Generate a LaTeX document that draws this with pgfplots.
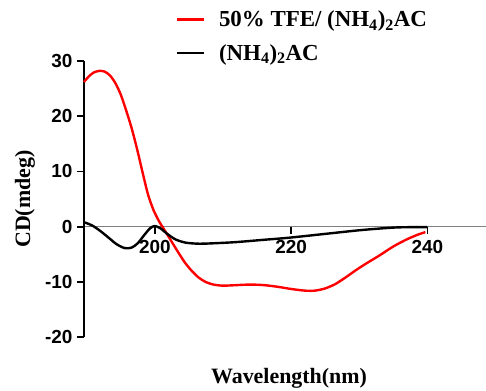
\documentclass[border=0pt]{standalone}
\usepackage{fontspec}
\setmainfont{Liberation Serif}
\newfontfamily\arialb{Liberation Sans}
\usepackage{pgfplots}
\pgfplotsset{compat=1.18}
\definecolor{cdred}{RGB}{255,0,0}
\begin{document}
\begin{tikzpicture}
\useasboundingbox (-84bp,-54bp) rectangle (402bp,337bp);
\begin{axis}[
  at={(0,0)}, anchor=south west,
  scale only axis, width=402bp, height=276bp,
  xmin=189.6, xmax=248.6, ymin=-20, ymax=30,
  axis x line=middle, axis y line=left,
  x axis line style={-, draw=gray, line width=0.9bp},
  y axis line style={-, draw=black, line width=2.2bp},
  xtick={200,220,240}, ytick={-20,-10,0,10,20,30},
  tick align=outside,
  major tick length=7bp,
  xtick style={draw=black, line width=1.8bp},
  ytick style={draw=black, line width=1.8bp},
  minor tick num=0,
  /pgf/number format/assume math mode=true,
  ticklabel style={font=\arialb\bfseries\fontsize{19}{19}\selectfont},
  xticklabel style={yshift=-3bp},
  yticklabel style={xshift=-1bp},
  xlabel={Wavelength(nm)},
  ylabel={CD(mdeg)},
  label style={font=\bfseries\fontsize{22}{22}\selectfont},
  xlabel style={at={(axis description cs:0.51,-0.1486)}, anchor=center},
  ylabel style={at={(axis description cs:-0.1468,0.5)}, anchor=center},
  legend style={at={(axis description cs:0.22,1.197)}, anchor=north west,
    draw=none, fill=none, font=\bfseries\fontsize{23}{23}\selectfont,
    row sep=12bp, /tikz/every odd column/.style={column sep=12bp}},
  legend cell align=left,
  legend image code/.code={\draw[#1] (0bp,0bp) -- (27bp,0bp);},
  clip=false,
]
\addplot[cdred, line width=2.4bp, smooth, tension=0.45] coordinates {
(189.6,26.2) (190.3,27.2) (191.0,27.9) (191.8,28.2) (192.6,28.1) (193.4,27.4)
(194.2,26.0) (195.0,23.9) (195.8,21.0) (196.6,17.8) (197.4,14.0) (198.2,9.8)
(199.0,5.8) (199.8,3.0) (200.6,1.0) (201.4,-0.6) (202.4,-2.6) (203.4,-4.6)
(204.4,-6.5) (205.4,-8.0) (206.4,-9.2) (207.4,-10.0) (208.6,-10.5) (210,-10.7)
(212,-10.6) (214,-10.5) (216,-10.6) (218,-10.9) (220,-11.3) (222,-11.6)
(223.5,-11.6) (225,-11.2) (226.5,-10.4) (228,-9.2) (229.5,-7.9) (231,-6.7)
(233,-5.2) (235,-3.6) (237,-2.3) (238.5,-1.5) (239.7,-1.0)
};
\addlegendentry{50\% TFE/ (NH\textsubscript{4})\textsubscript{2}AC}
\addplot[black, line width=2.4bp, smooth, tension=0.5] coordinates {
(189.6,0.8) (190.8,0.2) (192.0,-0.8) (193.2,-2.0) (194.4,-3.2) (195.6,-3.9)
(196.6,-3.8) (197.5,-3.0) (198.4,-1.6) (199.3,-0.3) (200.0,0.1) (200.8,-0.3)
(201.8,-1.3) (203.0,-2.3) (204.5,-2.9) (206.5,-3.1) (209,-3.0) (212,-2.8)
(215.9,-2.4) (219.8,-2.0) (225.9,-1.2) (230.55,-0.6) (235.5,-0.15) (240.0,-0.1)
};
\addlegendentry{(NH\textsubscript{4})\textsubscript{2}AC}
\end{axis}
\end{tikzpicture}
\end{document}
